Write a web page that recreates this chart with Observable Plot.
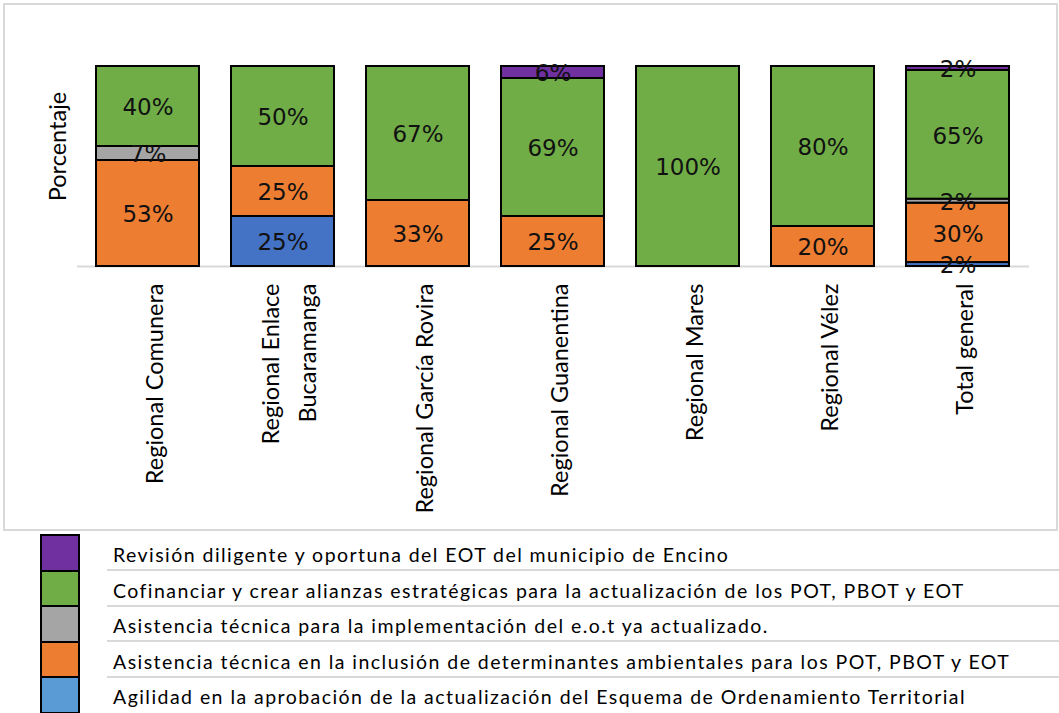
<!DOCTYPE html>
<html>
<head>
<meta charset="utf-8">
<script src="https://cdn.jsdelivr.net/npm/d3@7"></script>
<script src="https://cdn.jsdelivr.net/npm/@observablehq/plot@0.6"></script>
<style>
  html, body { margin: 0; padding: 0; background: #fff; }
  #wrap { position: relative; width: 1059px; height: 713px; overflow: hidden; }
  #chart { position: absolute; left: 0; top: 0; }
  #frame { position: absolute; left: 3px; top: 3px; width: 1051px; height: 524px; border: 2px solid #d9d9d9; pointer-events: none; }
  #legend { position: absolute; left: 0; top: 534px; width: 1059px; }
  .row { position: relative; height: 35.6px; }
  .sw { position: absolute; left: 40px; top: 0; width: 36px; height: 33.6px; border: 2px solid #000; border-bottom: 0; }
  .row:last-child .sw { border-bottom: 2px solid #000; }
  .lab { position: absolute; left: 113px; top: 3px; height: 35.6px; line-height: 35.6px; font-family: Lato, "Open Sans", sans-serif; font-size: 19.5px; letter-spacing: 1.45px; color: #000; white-space: nowrap; }
  .sep { position: absolute; left: 107px; right: 0; bottom: -1.5px; height: 0; border-top: 2px solid #d9d9d9; }
</style>
</head>
<body>
<div id="wrap">
  <div id="chart"></div>
  <div id="frame"></div>
  <div id="legend"></div>
</div>
<script>
// Categories (x) and their tick labels
const categories = ["Regional Comunera", "Regional Enlace Bucaramanga", "Regional García Rovira", "Regional Guanentina", "Regional Mares", "Regional Vélez", "Total general"];
const tickLabels = ["Regional Comunera", "Regional Enlace\nBucaramanga", "Regional García Rovira", "Regional Guanentina", "Regional Mares", "Regional Vélez", "Total general"];

// Series names (bottom to top of stack)
const seriesNames = [
  "Agilidad en la aprobación de la actualización del Esquema de Ordenamiento Territorial",
  "Asistencia técnica en la inclusión de determinantes ambientales para los POT, PBOT y EOT",
  "Asistencia técnica para la implementación del e.o.t ya actualizado.",
  "Cofinanciar y crear alianzas estratégicas para la actualización de los POT, PBOT y EOT",
  "Revisión diligente y oportuna del EOT del municipio de Encino"
];
const barColors = ["#4472C4", "#ED7D31", "#A5A5A5", "#70AD47", "#7030A0"];
const legendColors = ["#5B9BD5", "#ED7D31", "#A5A5A5", "#70AD47", "#7030A0"];

// Percent values per series, one per category
const agilidad       = [0, 25, 0, 0, 0, 0, 2];
const inclusion      = [53, 25, 33, 25, 0, 20, 30];
const implementacion = [7, 0, 0, 0, 0, 0, 2];
const cofinanciar    = [40, 50, 67, 69, 100, 80, 65];
const revision       = [0, 0, 0, 6, 0, 0, 2];

const seriesValues = [agilidad, inclusion, implementacion, cofinanciar, revision];

const data = [];
seriesNames.forEach((s, i) => {
  categories.forEach((c, j) => {
    const v = seriesValues[i][j];
    if (v > 0) data.push({category: c, serie: s, value: v});
  });
});

const stackOpts = {x: "category", y: "value", z: "serie", order: seriesNames, offset: "normalize"};

const chart = Plot.plot({
  width: 1059,
  height: 530,
  marginTop: 66,
  marginBottom: 264,
  marginLeft: 77,
  marginRight: 30,
  x: {domain: categories, paddingInner: 0.235, paddingOuter: 0.12, axis: null},
  y: {domain: [0, 1], axis: null},
  color: {domain: seriesNames, range: barColors},
  style: {background: "transparent"},
  marks: [
    Plot.ruleY([0], {stroke: "#d9d9d9", strokeWidth: 2}),
    Plot.barY(data, Plot.stackY({...stackOpts, fill: "serie", stroke: "#000", strokeWidth: 2})),
    Plot.text(data, Plot.stackY({...stackOpts, text: d => d.value + "%", fill: "#111", fontSize: 23, fontFamily: "DejaVu Sans", textAnchor: "middle", lineAnchor: "middle", dy: 1.5})),
    Plot.text(categories, {x: d => d, text: (d, i) => tickLabels[i], frameAnchor: "bottom", rotate: -90, textAnchor: "end", lineAnchor: "middle", dy: 17, dx: 3, lineHeight: 1.55, fontSize: 23.5, fontFamily: "Lato", fill: "#000"}),
    Plot.text(["Porcentaje"], {frameAnchor: "left", rotate: -90, textAnchor: "middle", lineAnchor: "middle", dx: -19, dy: -20, fontSize: 23.5, fontFamily: "Lato", fill: "#000"})
  ]
});
document.getElementById("chart").appendChild(chart);

// Legend (top to bottom: reverse of stacking order)
const legend = d3.select("#legend");
const order = [4, 3, 2, 1, 0];
order.forEach((k, idx) => {
  const row = legend.append("div").attr("class", "row");
  row.append("div").attr("class", "sw").style("background", legendColors[k]);
  row.append("div").attr("class", "lab").text(seriesNames[k]);
  if (idx < order.length - 1) row.append("div").attr("class", "sep");
});
</script>
</body>
</html>
